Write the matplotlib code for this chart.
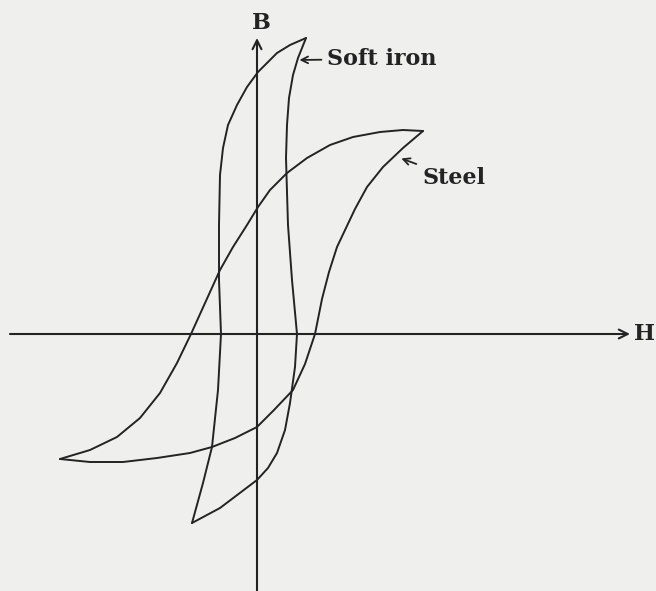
import matplotlib
matplotlib.use("Agg")
import matplotlib.pyplot as plt

# Soft iron loop (H, B) in arbitrary units
soft_down_H = [49, 33, 20, 1, -10, -20, -29, -34, -37, -38, -38, -36, -39, -45, -54, -65]
soft_down_B = [296, 289, 281, 262, 247, 229, 209, 186, 159, 109, 54, 0, -56, -113, -149, -189]
soft_up_H = [-65, -37, 0, 11, 20, 28, 33, 38, 40, 35, 31, 30, 29, 30, 32, 36, 41, 49]
soft_up_B = [-189, -174, -146, -134, -119, -96, -69, -33, 0, 54, 109, 142, 176, 209, 236, 259, 276, 296]

# Steel loop
steel_down_H = [166, 146, 123, 96, 73, 50, 30, 13, 1, -10, -24, -37, -66, -80, -97, -117, -140, -167, -197]
steel_down_B = [203, 204, 202, 197, 189, 176, 161, 144, 127, 109, 87, 64, 0, -29, -59, -84, -103, -116, -125]
steel_up_H = [-197, -167, -134, -100, -67, -45, -22, 0, 17, 36, 48, 58, 65, 72, 80, 89, 98, 110, 126, 146, 166]
steel_up_B = [-125, -128, -128, -124, -119, -113, -104, -93, -76, -56, -30, 0, 35, 62, 87, 106, 125, 147, 167, 186, 203]

labels = {"B": "B", "H": "H", "soft": "Soft iron", "steel": "Steel"}

bg = "#efefed"
ink = "#232323"

fig = plt.figure(figsize=(6.56, 5.91), dpi=100, facecolor=bg)
ax = fig.add_axes([0, 0, 1, 1])
ax.set_facecolor(bg)
ax.set_xlim(-257, 399)
ax.set_ylim(-257, 334)
ax.axis("off")

lw = 1.4
for hs, bs in [(soft_down_H, soft_down_B), (soft_up_H, soft_up_B),
               (steel_down_H, steel_down_B), (steel_up_H, steel_up_B)]:
    ax.plot(hs, bs, color=ink, lw=lw, solid_joinstyle="round", solid_capstyle="round")

# axes with arrows
ax.annotate("", xy=(0, 296), xytext=(0, -257),
            arrowprops=dict(arrowstyle="->", color=ink, lw=1.5,
                            mutation_scale=16, shrinkA=0, shrinkB=0))
ax.annotate("", xy=(373, 0), xytext=(-247, 0),
            arrowprops=dict(arrowstyle="->", color=ink, lw=1.5,
                            mutation_scale=16, shrinkA=0, shrinkB=0))

font = dict(family="DejaVu Serif", fontsize=16, color=ink)
ax.text(4, 311, labels["B"], ha="center", va="center", fontweight="bold", **font)
ax.text(377, 0, labels["H"], ha="left", va="center", fontweight="bold", **font)

ax.annotate(labels["soft"], xy=(41, 274), xytext=(70, 275),
            ha="left", va="center", fontweight="bold", **font,
            arrowprops=dict(arrowstyle="->", color=ink, lw=1.3,
                            mutation_scale=12, shrinkA=2, shrinkB=1))
ax.annotate(labels["steel"], xy=(143, 176), xytext=(166, 156),
            ha="left", va="center", fontweight="bold", **font,
            arrowprops=dict(arrowstyle="->", color=ink, lw=1.3,
                            mutation_scale=12, shrinkA=3, shrinkB=1))

fig.savefig("out.png", dpi=100, facecolor=bg)
